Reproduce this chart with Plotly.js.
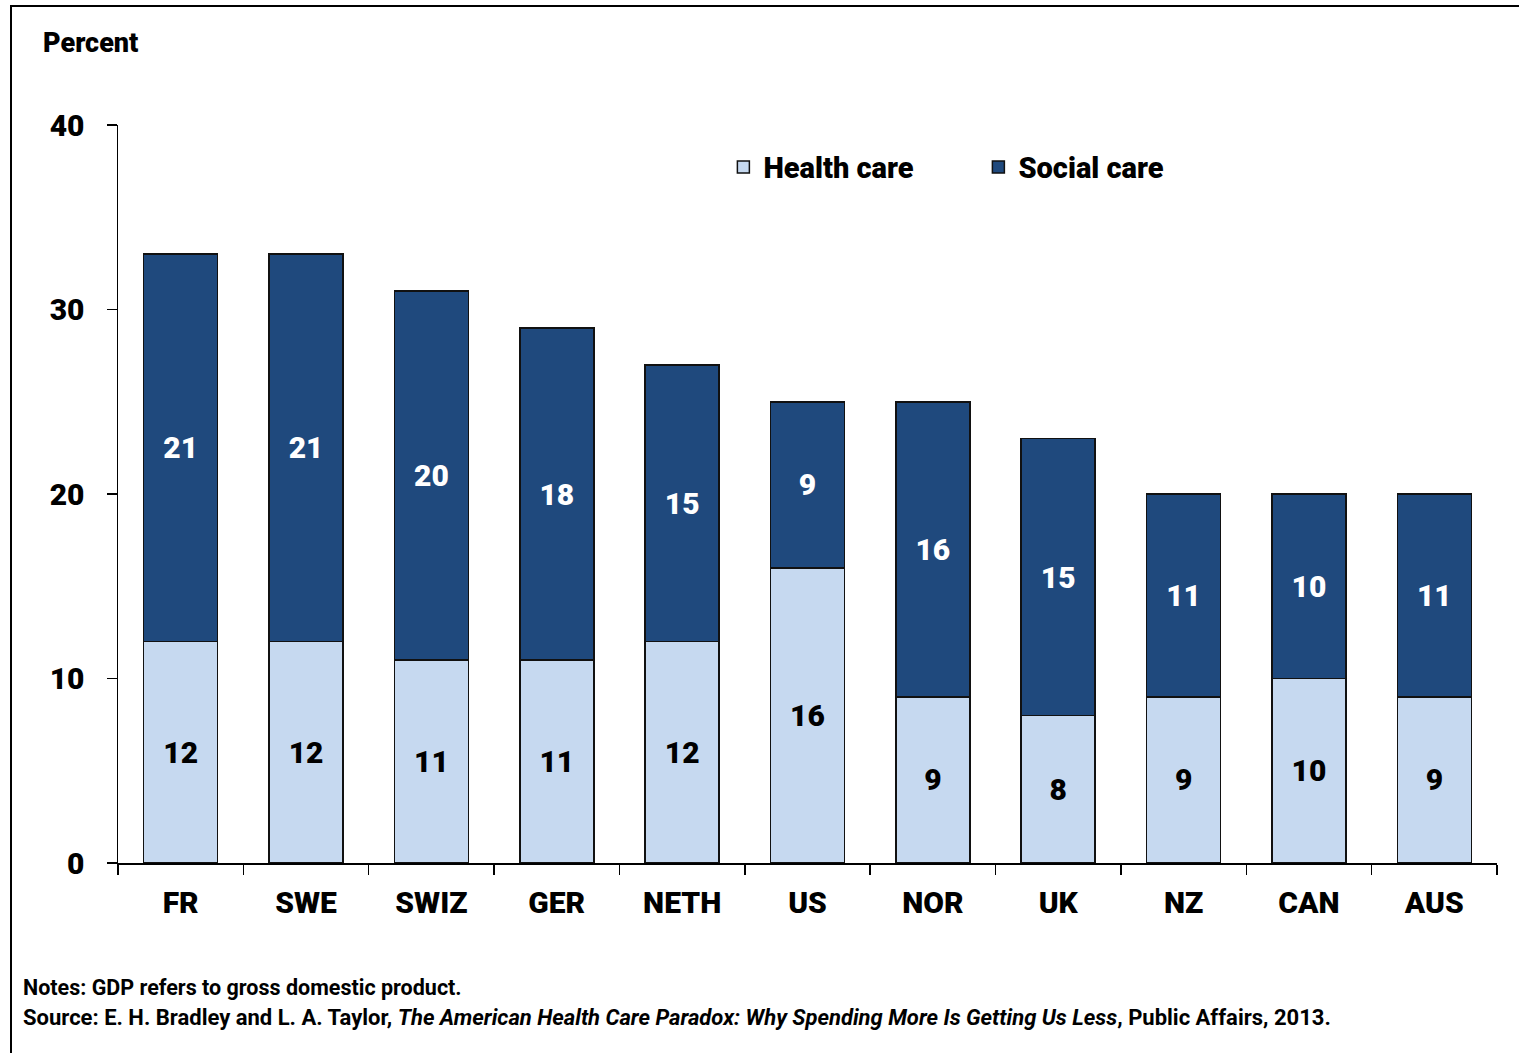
<!DOCTYPE html>
<html>
<head>
<meta charset="utf-8">
<script src="https://cdn.plot.ly/plotly-3.0.1.min.js"></script>
<style>
  html, body { margin: 0; padding: 0; background: #ffffff; }
  #frame {
    position: absolute; left: 10px; top: 5px; width: 1509px; height: 1048px;
    border-top: 2px solid #000; border-left: 2px solid #000; box-sizing: border-box;
  }
  #chart { position: absolute; left: 0; top: 0; width: 1519px; height: 1053px; }
</style>
</head>
<body>
<div id="frame"></div>
<div id="chart"></div>
<script>
// Health and social care spending, percent of GDP
const countries = ['FR', 'SWE', 'SWIZ', 'GER', 'NETH', 'US', 'NOR', 'UK', 'NZ', 'CAN', 'AUS'];
const healthCare = [12, 12, 11, 11, 12, 16, 9, 8, 9, 10, 9];
const socialCare = [21, 21, 20, 18, 15, 9, 16, 15, 11, 10, 11];
const yTicks = [0, 10, 20, 30, 40];

const FONT = 'Roboto, "DejaVu Sans Condensed", sans-serif';
const INK = '#000000';
const OUTLINE = { color: '#111111', width: 1.5 };

const traces = [
  {
    type: 'bar', name: 'Health care', x: countries, y: healthCare,
    marker: { color: '#C6D9F0', line: OUTLINE },
    texttemplate: '%{y}', textposition: 'inside',
    insidetextanchor: 'middle', constraintext: 'none',
    textfont: { family: FONT, size: 30, color: INK, weight: 900 },
    hoverinfo: 'x+y+name'
  },
  {
    type: 'bar', name: 'Social care', x: countries, y: socialCare,
    marker: { color: '#1F497D', line: OUTLINE },
    texttemplate: '%{y}', textposition: 'inside',
    insidetextanchor: 'middle', constraintext: 'none',
    textfont: { family: FONT, size: 30, color: '#ffffff', weight: 900 },
    hoverinfo: 'x+y+name'
  }
];

const layout = {
  width: 1519, height: 1053,
  paper_bgcolor: 'rgba(0,0,0,0)', plot_bgcolor: 'rgba(0,0,0,0)',
  margin: { l: 118, r: 22, t: 125, b: 190 },
  barmode: 'stack', bargap: 0.41,
  font: { family: FONT, color: INK },
  showlegend: true,
  legend: {
    orientation: 'h', x: 0.439, xanchor: 'left', y: 0.943, yanchor: 'middle',
    traceorder: 'normal', entrywidth: 210, entrywidthmode: 'pixels',
    font: { family: FONT, size: 29, color: INK, weight: 900 },
    bgcolor: 'rgba(0,0,0,0)'
  },
  xaxis: {
    type: 'category', showline: true, linecolor: INK, linewidth: 1.5,
    ticks: 'outside', tickson: 'boundaries', ticklen: 10, tickwidth: 1.5, tickcolor: INK,
    tickfont: { family: FONT, size: 30, color: INK, weight: 900 },
    ticklabelstandoff: 12,
    showgrid: false, zeroline: false, fixedrange: true
  },
  yaxis: {
    range: [0, 40], tickvals: yTicks, ticktext: yTicks.map(String),
    showline: true, linecolor: INK, linewidth: 1.5,
    ticks: 'outside', ticklen: 10, tickwidth: 1.5, tickcolor: INK,
    tickfont: { family: FONT, size: 30, color: INK, weight: 900 },
    ticklabelstandoff: 16,
    showgrid: false, zeroline: false, fixedrange: true
  },
  annotations: [
    {
      xref: 'paper', yref: 'paper', x: -0.0555, y: 1.111, xanchor: 'left', yanchor: 'middle',
      text: 'Percent', showarrow: false,
      font: { family: FONT, size: 27, color: INK, weight: 900 }
    },
    {
      xref: 'paper', yref: 'paper', x: -0.07, y: -0.169, xanchor: 'left', yanchor: 'middle',
      text: 'Notes: GDP refers to gross domestic product.', showarrow: false,
      font: { family: FONT, size: 21.5, color: INK, weight: 700 }
    },
    {
      xref: 'paper', yref: 'paper', x: -0.07, y: -0.21, xanchor: 'left', yanchor: 'middle',
      text: 'Source: E. H. Bradley and L. A. Taylor, <i>The American Health Care Paradox: Why Spending More Is Getting Us Less</i>, Public Affairs, 2013.',
      showarrow: false,
      font: { family: FONT, size: 22, color: INK, weight: 700 }
    }
  ]
};

Plotly.newPlot('chart', traces, layout, { displayModeBar: false, staticPlot: true });
</script>
</body>
</html>
